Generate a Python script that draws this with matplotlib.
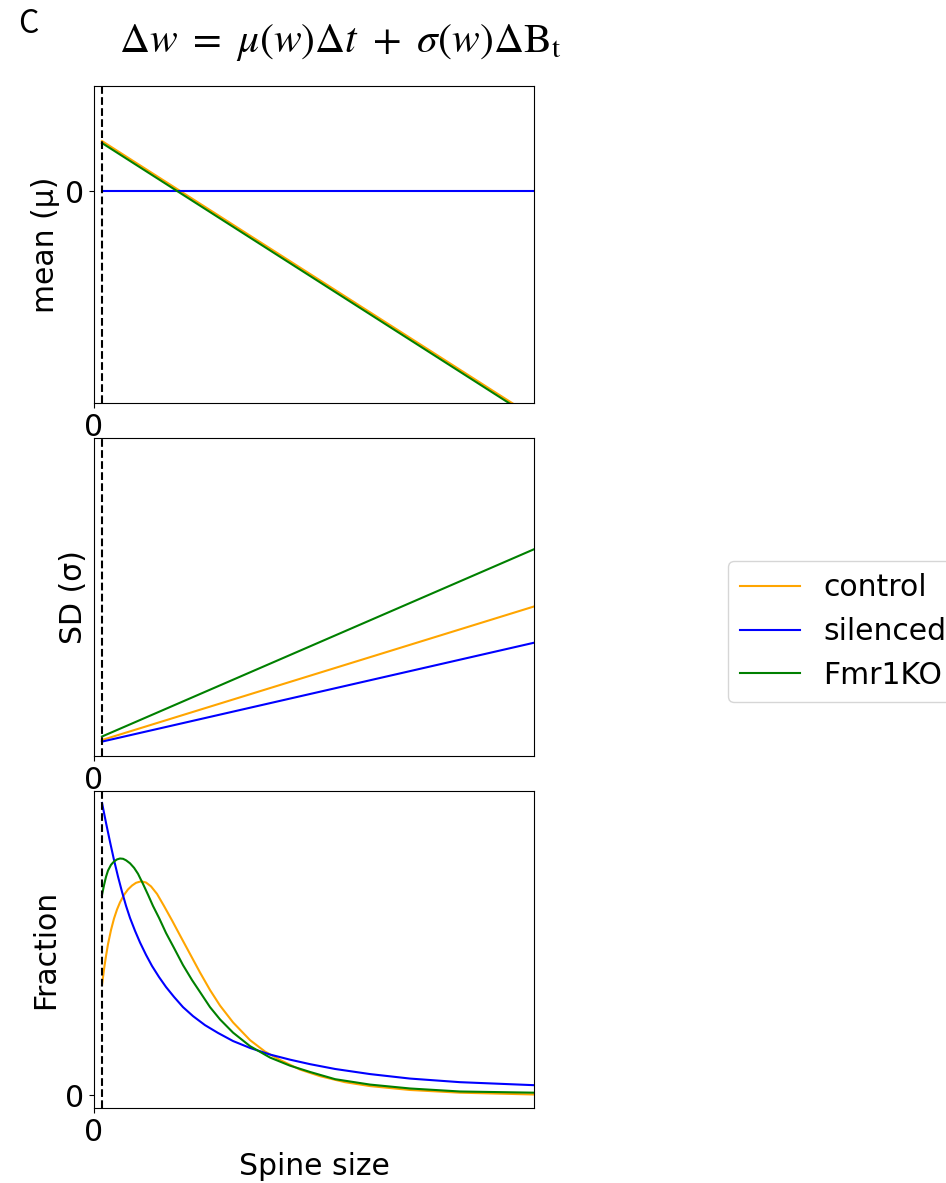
import matplotlib
matplotlib.use('Agg')
import matplotlib.pyplot as plt

plt.rcParams['font.size'] = 21.5
plt.rcParams['mathtext.fontset'] = 'stix'

# 分组与颜色
groups = ['control', 'silenced', 'Fmr1KO']
colors = ['orange', 'blue', 'green']

# 最小突触大小（虚线位置）和 x 轴范围
w_min = 0.09
w_max = 5.0

# 上图：均值 mu(w)，直线端点
mu_w = [0.09, 5.0]
mu_vals = {
    'control': [1.0, -4.52],
    'silenced': [0.0, 0.0],
    'Fmr1KO': [0.96, -4.56],
}

# 中图：标准差 sigma(w)，直线端点
sd_w = [0.09, 5.0]
sd_vals = {
    'control': [0.050, 0.470],
    'silenced': [0.045, 0.356],
    'Fmr1KO': [0.061, 0.650],
}

# 下图：稳态分布
frac_w = {
    'control': [0.091, 0.114, 0.136, 0.159, 0.193, 0.227, 0.261, 0.295, 0.341, 0.386,
                0.432, 0.477, 0.534, 0.591, 0.648, 0.716, 0.795, 0.886, 0.977, 1.091,
                1.205, 1.318, 1.432, 1.580, 1.773, 1.943, 2.114, 2.341, 2.568, 2.852,
                3.136, 3.591, 4.159, 5.0],
    'silenced': [0.091, 0.136, 0.182, 0.227, 0.273, 0.318, 0.364, 0.409, 0.466, 0.523,
                 0.591, 0.659, 0.739, 0.818, 0.909, 1.011, 1.125, 1.261, 1.409, 1.580,
                 1.773, 2.0, 2.227, 2.455, 2.739, 3.136, 3.591, 4.159, 5.0],
    'Fmr1KO': [0.091, 0.114, 0.136, 0.159, 0.193, 0.227, 0.261, 0.295, 0.330, 0.364,
               0.409, 0.455, 0.5, 0.557, 0.614, 0.670, 0.739, 0.818, 0.909, 1.011,
               1.114, 1.205, 1.318, 1.432, 1.580, 1.773, 2.0, 2.227, 2.455, 2.739,
               3.136, 3.591, 4.159, 5.0],
}
frac_vals = {
    'control': [0.367, 0.420, 0.463, 0.503, 0.550, 0.588, 0.618, 0.642, 0.667, 0.685,
                0.698, 0.707, 0.712, 0.708, 0.695, 0.670, 0.630, 0.582, 0.532, 0.470,
                0.408, 0.350, 0.298, 0.242, 0.183, 0.145, 0.117, 0.085, 0.063, 0.043,
                0.030, 0.017, 0.008, 0.002],
    'silenced': [0.973, 0.907, 0.843, 0.783, 0.727, 0.677, 0.630, 0.590, 0.547, 0.508,
                 0.467, 0.430, 0.393, 0.360, 0.327, 0.293, 0.263, 0.233, 0.207, 0.180,
                 0.157, 0.135, 0.118, 0.103, 0.087, 0.070, 0.055, 0.043, 0.033],
    'Fmr1KO': [0.667, 0.700, 0.727, 0.748, 0.767, 0.778, 0.785, 0.788, 0.787, 0.782,
               0.772, 0.757, 0.737, 0.703, 0.667, 0.630, 0.590, 0.540, 0.490, 0.433,
               0.383, 0.343, 0.293, 0.252, 0.208, 0.163, 0.125, 0.098, 0.077, 0.053,
               0.035, 0.022, 0.012, 0.008],
}

fig = plt.figure(figsize=(9.46, 11.83), dpi=100)
left, width, height = 0.0994, 0.4651, 0.268
ax1 = fig.add_axes([left, 0.6593, width, height])
ax2 = fig.add_axes([left, 0.361, width, 0.2688])
ax3 = fig.add_axes([left, 0.0634, width, height])

for g, c in zip(groups, colors):
    ax1.plot(mu_w, mu_vals[g], color=c, lw=1.5, label=g)
    ax2.plot(sd_w, sd_vals[g], color=c, lw=1.5)
    ax3.plot(frac_w[g], frac_vals[g], color=c, lw=1.5)

for ax in (ax1, ax2, ax3):
    ax.axvline(w_min, color='black', ls='--', lw=1.5)
    ax.set_xlim(0, w_max)
    ax.set_xticks([0])

ax1.set_ylim(-4.24, 2.1)
ax1.set_yticks([0])
ax1.set_ylabel('mean (μ)')

ax2.set_ylim(0, 1)
ax2.set_yticks([])
ax2.set_ylabel('SD (σ)')

ax3.set_ylim(-0.043, 1.013)
ax3.set_yticks([0])
ax3.set_ylabel('Fraction')
ax3.set_xlabel('Spine size')

fig.legend(loc='center left', bbox_to_anchor=(728 / 946, 0.4662), fontsize=21.5,
           handlelength=2.0, borderaxespad=0)

fig.text(340 / 946, 1 - 42 / 1183,
         r'$\Delta w\ =\ \mu(w)\Delta t\ +\ \sigma(w)\Delta \mathrm{B_t}$',
         ha='center', va='center', fontsize=30)
fig.text(18 / 946, 1 - 24 / 1183, 'C', ha='left', va='center', fontsize=23,
         family=['Noto Sans CJK JP', 'DejaVu Sans'])

fig.savefig('out.png', dpi=100)
